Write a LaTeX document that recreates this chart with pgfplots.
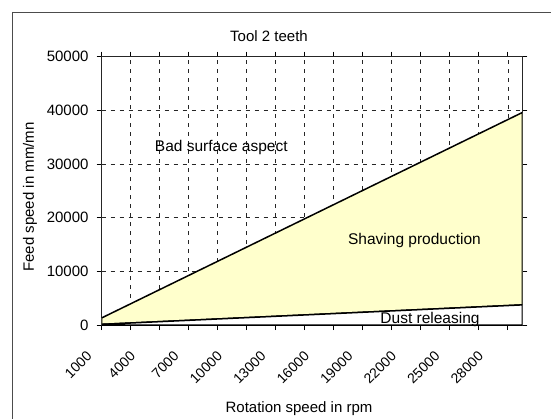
\documentclass[border=0pt]{standalone}
\usepackage{pgfplots}
\pgfplotsset{compat=1.18}
\usepackage{pgfplotstable}
\usepackage{fontspec}
\setmainfont{Liberation Sans}
\definecolor{ylw}{RGB}{255,255,204}
\pgfplotstableread{
x lo diff
1000 125 1195
2000 250 2390
3000 375 3585
4000 500 4780
5000 625 5975
6000 750 7170
7000 875 8365
8000 1000 9560
9000 1125 10755
10000 1250 11950
11000 1375 13145
12000 1500 14340
13000 1625 15535
14000 1750 16730
15000 1875 17925
16000 2000 19120
17000 2125 20315
18000 2250 21510
19000 2375 22705
20000 2500 23900
21000 2625 25095
22000 2750 26290
23000 2875 27485
24000 3000 28680
25000 3125 29875
26000 3250 31070
27000 3375 32265
28000 3500 33460
29000 3625 34655
30000 3750 35850
}\data
\begin{document}
\fontsize{15pt}{18pt}\selectfont
\begin{tikzpicture}[x=1pt,y=1pt]
\useasboundingbox (0,0) rectangle (551,418);
\draw[black!70, line width=0.8pt] (12,406) -- (570,406);
\draw[black!70, line width=0.8pt] (12,406) -- (12,-20);
\begin{axis}[
  at={(101.7pt,93pt)}, anchor=south west,
  scale only axis, width=420.6pt, height=268.3pt,
  xmin=1000, xmax=30000, ymin=0, ymax=50000,
  stack plots=y,
  axis line style={black!85, line width=0.8pt},
  xtick={1000,3000,...,29000},
  xticklabels={},
  extra x ticks={1000,4000,...,28000},
  extra x tick labels={1000,4000,7000,10000,13000,16000,19000,22000,25000,28000},
  extra x tick style={major tick length=0pt, xmajorgrids=false},
  xticklabel style={xshift=-16pt, yshift=-25pt, rotate=45, anchor=north east, font=\fontsize{14pt}{17pt}\selectfont, inner sep=0pt},
  ytick={0,10000,...,50000},
  yticklabels={0,10000,20000,30000,40000,50000},
  scaled ticks=false,
  tick align=outside,
  major tick length=5pt,
  tick style={black, line width=0.7pt},
  xmajorgrids=true, ymajorgrids=true,
  grid style={black!85, line width=0.6pt, dash pattern=on 4pt off 5pt},
  yticklabel style={font=\fontsize{15pt}{18pt}\selectfont, xshift=-3pt},
  /pgf/number format/assume math mode=true,
]
\addplot[fill=white, draw=black, line width=1.5pt] table[x=x, y=lo]{\data} \closedcycle;
\addplot[fill=ylw, draw=black, line width=1.5pt] table[x=x, y=diff]{\data} \closedcycle;
\end{axis}
\node[anchor=base] at (269,376) {Tool 2 teeth};
\node[rotate=90] at (30,221) {Feed speed in mm/mn};
\node[anchor=base] at (299,6) {Rotation speed in rpm};
\node[anchor=base, font=\fontsize{15.5pt}{18pt}\selectfont] at (221.3,266.3) {Bad surface aspect};
\node[anchor=base, font=\fontsize{15.5pt}{18pt}\selectfont] at (414.5,173) {Shaving production};
\node[anchor=base, font=\fontsize{15.5pt}{18pt}\selectfont] at (430,95) {Dust releasing};
\end{tikzpicture}
\end{document}
